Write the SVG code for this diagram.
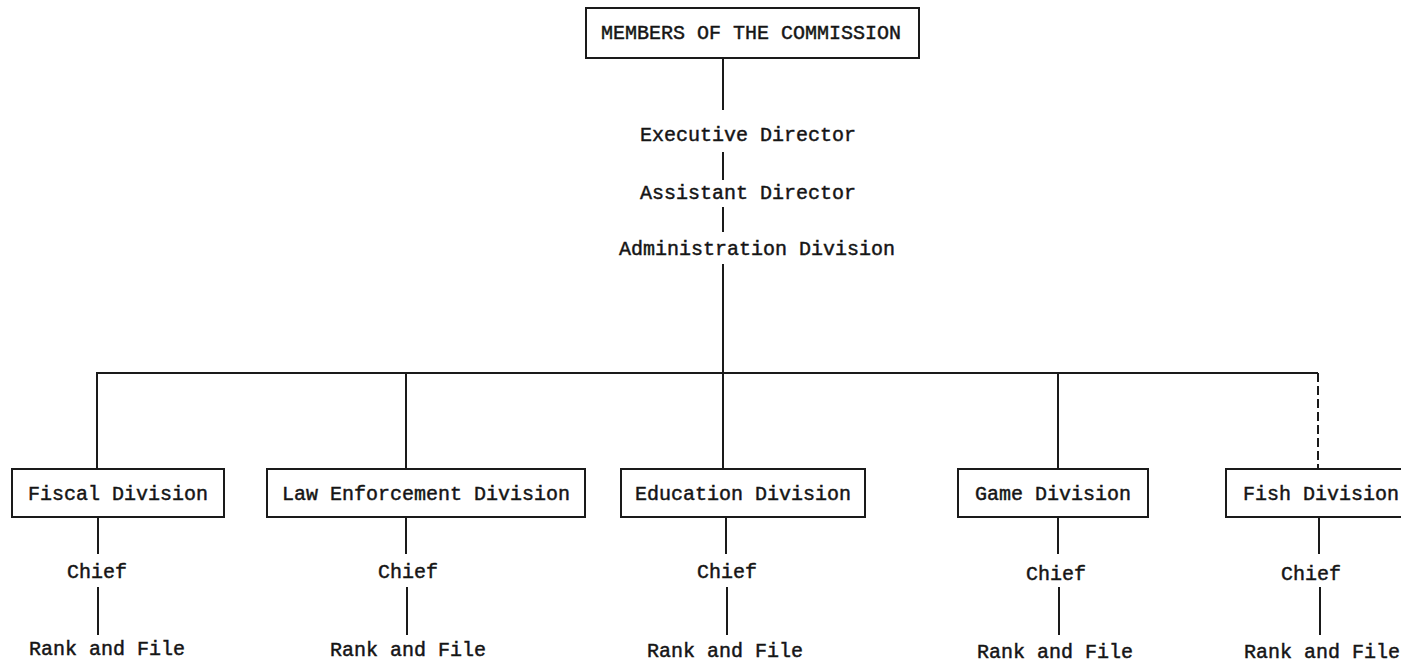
<svg xmlns="http://www.w3.org/2000/svg" width="1401" height="664" viewBox="0 0 1401 664">
<style>
text{font-family:"Liberation Mono","DejaVu Sans Mono",monospace;font-size:20px;fill:#151515;stroke:#151515;stroke-width:0.45;text-anchor:middle;dominant-baseline:central}
.box{fill:#fff;stroke:#1a1a1a;stroke-width:2}
.ln{stroke:#1a1a1a;stroke-width:2;fill:none}
.dash{stroke-dasharray:9 4}
</style>
<rect width="1401" height="664" fill="#fff"/>
<g id="connectors">
<line class="ln" x1="723" y1="58" x2="723" y2="110"/>
<line class="ln" x1="723" y1="152" x2="723" y2="180"/>
<line class="ln" x1="723" y1="207" x2="723" y2="232"/>
<line class="ln" x1="723" y1="264" x2="723" y2="469"/>
<polyline class="ln" points="97,469 97,373 1318,373"/>
<line class="ln" x1="406" y1="373" x2="406" y2="469"/>
<line class="ln" x1="1058" y1="373" x2="1058" y2="469"/>
<line class="ln dash" x1="1318" y1="373" x2="1318" y2="469"/>
<line class="ln" x1="98" y1="517" x2="98" y2="554"/>
<line class="ln" x1="98" y1="587" x2="98" y2="635"/>
<line class="ln" x1="406" y1="517" x2="406" y2="554"/>
<line class="ln" x1="407" y1="587" x2="407" y2="635"/>
<line class="ln" x1="726" y1="517" x2="726" y2="554"/>
<line class="ln" x1="727" y1="587" x2="727" y2="635"/>
<line class="ln" x1="1058" y1="517" x2="1058" y2="554"/>
<line class="ln" x1="1059" y1="587" x2="1059" y2="635"/>
<line class="ln" x1="1319" y1="517" x2="1319" y2="554"/>
<line class="ln" x1="1320" y1="587" x2="1320" y2="635"/>
</g>
<g id="commission">
<rect class="box" x="586" y="8" width="333" height="50"/>
<text x="751" y="33">MEMBERS OF THE COMMISSION</text>
</g>
<g id="executive-director"><text x="748" y="135">Executive Director</text></g>
<g id="assistant-director"><text x="748" y="193">Assistant Director</text></g>
<g id="administration-division"><text x="757" y="249">Administration Division</text></g>
<g id="fiscal-division">
<rect class="box" x="12" y="469" width="212" height="48"/>
<text x="118" y="494">Fiscal Division</text>
</g>
<g id="law-enforcement-division">
<rect class="box" x="267" y="469" width="318" height="48"/>
<text x="426" y="494">Law Enforcement Division</text>
</g>
<g id="education-division">
<rect class="box" x="621" y="469" width="244" height="48"/>
<text x="743" y="494">Education Division</text>
</g>
<g id="game-division">
<rect class="box" x="958" y="469" width="190" height="48"/>
<text x="1053" y="494">Game Division</text>
</g>
<g id="fish-division">
<rect class="box" x="1226" y="469" width="190" height="48"/>
<text x="1321" y="494">Fish Division</text>
</g>
<g id="fiscal-chief"><text x="97" y="572">Chief</text></g>
<g id="law-chief"><text x="408" y="572">Chief</text></g>
<g id="education-chief"><text x="727" y="572">Chief</text></g>
<g id="game-chief"><text x="1056" y="574">Chief</text></g>
<g id="fish-chief"><text x="1311" y="574">Chief</text></g>
<g id="fiscal-rank"><text x="107" y="649">Rank and File</text></g>
<g id="law-rank"><text x="408" y="650">Rank and File</text></g>
<g id="education-rank"><text x="725" y="651">Rank and File</text></g>
<g id="game-rank"><text x="1055" y="652">Rank and File</text></g>
<g id="fish-rank"><text x="1322" y="652">Rank and File</text></g>
</svg>
